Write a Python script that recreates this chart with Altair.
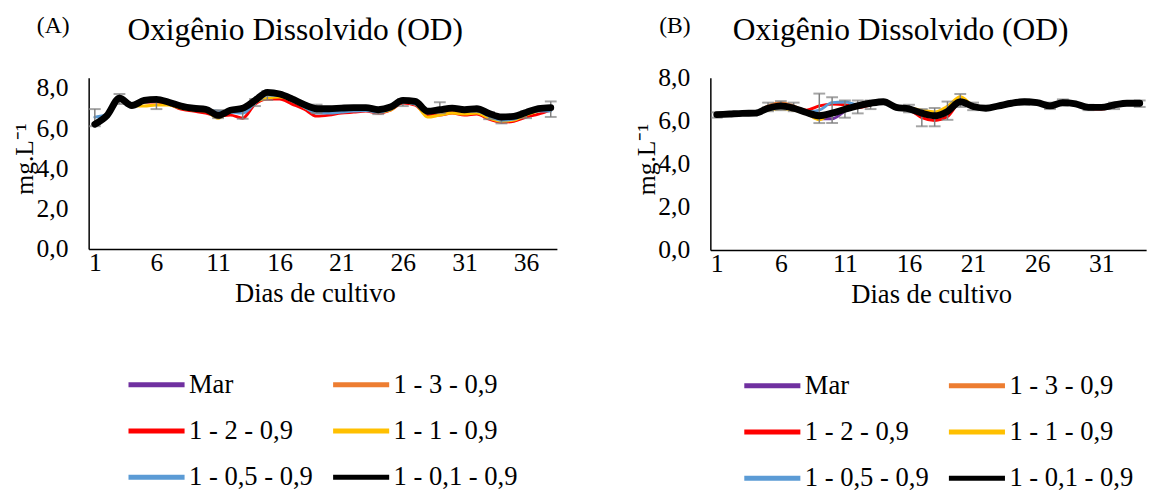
import altair as alt
import pandas as pd

SERIF = "Liberation Serif"

SERIES = ["Mar", "1 - 3 - 0,9", "1 - 2 - 0,9", "1 - 1 - 0,9", "1 - 0,5 - 0,9", "1 - 0,1 - 0,9"]
COLORS = ["#7030a0", "#ed7d31", "#ff0000", "#ffc000", "#5b9bd5", "#000000"]
WIDTHS = [3, 3, 3, 3, 3, 7]

# ---------------- Panel A (38 days) ----------------
A_mar = [6.20, 6.65, 7.45, 7.15, 7.35, 7.40, 7.30, 7.10, 7.00, 6.95, 6.65, 6.85, 6.95, 7.35, 7.75, 7.70, 7.45, 7.15, 7.00,
         6.95, 6.95, 7.00, 7.00, 6.90, 7.00, 7.35, 7.30, 6.80, 6.85, 6.90, 6.85, 6.90, 6.65, 6.50, 6.55, 6.75, 6.95, 7.05]
A_13 = [6.25, 6.70, 7.45, 7.15, 7.40, 7.45, 7.30, 7.05, 6.90, 6.85, 6.60, 6.85, 6.90, 7.35, 7.75, 7.75, 7.45, 7.10, 6.85,
        6.85, 6.90, 6.95, 6.95, 6.85, 6.95, 7.35, 7.25, 6.60, 6.70, 6.80, 6.75, 6.80, 6.55, 6.40, 6.45, 6.70, 6.90, 7.00]
A_12 = [6.25, 6.65, 7.40, 7.10, 7.30, 7.30, 7.20, 6.95, 6.85, 6.75, 6.60, 6.65, 6.50, 7.20, 7.45, 7.45, 7.20, 6.95, 6.60,
        6.65, 6.75, 6.80, 6.85, 6.75, 6.90, 7.25, 7.15, 6.65, 6.65, 6.75, 6.65, 6.70, 6.45, 6.30, 6.35, 6.55, 6.70, 6.90]
A_11 = [6.25, 6.70, 7.40, 7.10, 7.10, 7.15, 7.15, 7.00, 6.90, 6.85, 6.50, 6.85, 6.90, 7.30, 7.50, 7.55, 7.40, 7.05, 6.80,
        6.80, 6.85, 6.90, 6.90, 6.80, 6.90, 7.30, 7.20, 6.55, 6.65, 6.75, 6.70, 6.75, 6.50, 6.35, 6.40, 6.65, 6.85, 6.95]
A_105 = [6.55, 6.70, 7.55, 7.10, 7.30, 7.35, 7.25, 7.05, 6.95, 6.90, 6.85, 6.80, 6.75, 7.25, 7.65, 7.62, 7.40, 7.05, 6.75,
         6.75, 6.80, 6.85, 6.88, 6.80, 6.95, 7.30, 7.20, 6.75, 6.95, 6.95, 6.85, 6.85, 6.60, 6.40, 6.45, 6.75, 6.85, 6.85]
A_101 = [6.20, 6.64, 7.49, 7.13, 7.38, 7.43, 7.29, 7.10, 6.99, 6.94, 6.64, 6.89, 6.99, 7.38, 7.78, 7.70, 7.46, 7.17, 6.97,
         6.97, 7.00, 7.02, 7.02, 6.92, 7.05, 7.38, 7.33, 6.84, 6.92, 7.00, 6.92, 6.97, 6.73, 6.56, 6.59, 6.78, 6.97, 7.02]
A_err_day = [1, 3, 6, 11, 13, 14, 15, 19, 24, 26, 29, 33, 34, 36, 38]
A_err_lo = [6.10, 7.20, 6.95, 6.50, 6.47, 7.10, 7.40, 6.75, 6.70, 7.10, 6.75, 6.45, 6.24, 6.50, 6.56]
A_err_hi = [6.95, 7.70, 7.50, 6.90, 7.05, 7.45, 7.85, 7.17, 7.00, 7.45, 7.29, 6.80, 6.60, 6.85, 7.33]

# ---------------- Panel B (34 days) ----------------
B_mar = [6.25, 6.30, 6.33, 6.35, 6.60, 6.72, 6.58, 6.35, 6.10, 6.10, 6.45, 6.68, 6.80, 6.88, 6.62, 6.55, 6.35,
         6.20, 6.45, 6.90, 6.68, 6.60, 6.72, 6.85, 6.90, 6.85, 6.72, 6.88, 6.80, 6.62, 6.62, 6.75, 6.85, 6.85]
B_13 = [6.27, 6.30, 6.33, 6.38, 6.70, 6.85, 6.70, 6.42, 6.30, 6.40, 6.58, 6.72, 6.80, 6.88, 6.62, 6.55, 6.38,
        6.30, 6.50, 6.95, 6.70, 6.60, 6.72, 6.85, 6.92, 6.88, 6.72, 6.85, 6.80, 6.62, 6.60, 6.74, 6.85, 6.85]
B_12 = [6.25, 6.28, 6.33, 6.35, 6.62, 6.72, 6.62, 6.50, 6.70, 6.78, 6.75, 6.62, 6.75, 6.85, 6.60, 6.52, 6.15,
        6.02, 6.20, 6.85, 6.65, 6.58, 6.70, 6.80, 6.88, 6.85, 6.70, 6.85, 6.78, 6.58, 6.55, 6.70, 6.82, 6.82]
B_11 = [6.25, 6.30, 6.33, 6.35, 6.50, 6.58, 6.50, 6.35, 6.05, 6.40, 6.50, 6.72, 6.82, 6.88, 6.65, 6.60, 6.50,
        6.42, 6.68, 7.12, 6.72, 6.62, 6.75, 6.88, 6.95, 6.88, 6.75, 6.88, 6.82, 6.65, 6.65, 6.75, 6.85, 6.85]
B_105 = [6.22, 6.27, 6.30, 6.32, 6.52, 6.60, 6.55, 6.40, 6.50, 6.85, 6.88, 6.75, 6.80, 6.85, 6.62, 6.55, 6.38,
         6.28, 6.48, 6.92, 6.68, 6.60, 6.70, 6.82, 6.88, 6.82, 6.68, 6.82, 6.75, 6.60, 6.62, 6.70, 6.78, 6.75]
B_101 = [6.29, 6.32, 6.35, 6.36, 6.59, 6.70, 6.59, 6.39, 6.24, 6.36, 6.54, 6.70, 6.82, 6.89, 6.63, 6.56, 6.36,
         6.24, 6.44, 6.89, 6.67, 6.59, 6.70, 6.82, 6.89, 6.85, 6.70, 6.85, 6.79, 6.63, 6.63, 6.74, 6.82, 6.82]
B_err_day = [1, 5, 6, 7, 9, 10, 11, 12, 13, 16, 17, 18, 19, 20, 21, 25, 27, 28, 30, 32, 34]
B_err_lo = [6.15, 6.45, 6.50, 6.45, 5.90, 5.90, 6.15, 6.35, 6.55, 6.40, 5.75, 5.75, 6.05, 6.65, 6.50, 6.75, 6.55,
            6.70, 6.50, 6.55, 6.65]
B_err_hi = [6.40, 6.85, 6.92, 6.85, 7.27, 7.10, 6.95, 6.95, 6.95, 6.75, 6.55, 6.60, 6.90, 7.25, 6.85, 7.00, 6.85,
            7.00, 6.75, 6.85, 6.95]

Y_TICKS = [0, 2, 4, 6, 8]
TITLE = "Oxigênio Dissolvido (OD)"


def long_df(values_list):
    rows = []
    for name, vals in zip(SERIES, values_list):
        for i, v in enumerate(vals):
            rows.append({"dia": i + 1, "valor": v, "serie": name})
    return pd.DataFrame(rows)


def panel(values_list, err_day, err_lo, err_hi, ndays, width, height, ymax, letter,
          legend_x, legend_y, xtitle_dx):
    df = long_df(values_list)
    err = pd.DataFrame({"dia": err_day, "lo": err_lo, "hi": err_hi})
    x_ticks = list(range(1, ndays + 1, 5))

    x_enc = alt.X(
        "dia:Q",
        scale=alt.Scale(domain=[0.5, ndays + 0.5], nice=False, zero=False),
        axis=alt.Axis(
            values=x_ticks, title="Dias de cultivo", grid=False, ticks=False,
            domainColor="black", domainWidth=1.5, labelFont=SERIF, labelFontSize=26,
            labelColor="black", labelPadding=1, labelFlush=False, labelOverlap=False,
            titleFont=SERIF, titleFontSize=27, titleFontWeight="normal", titleColor="black",
            titlePadding=5, titleX=width / 2 + xtitle_dx,
        ),
    )
    y_axis = alt.Axis(
        values=Y_TICKS, title="mg.L⁻¹", grid=False, ticks=False, domainColor="black", domainWidth=1.5,
        labelFont=SERIF, labelFontSize=26, labelColor="black", labelPadding=21,
        labelExpr="replace(format(datum.value, '.1f'), '.', ',')",
        titleFont=SERIF, titleFontSize=26, titleFontWeight="normal", titleColor="black",
        titleX=-52, titleY=height / 2 - 5,
    )
    y_scale = alt.Scale(domain=[0, ymax], nice=False)
    color_enc = alt.Color(
        "serie:N",
        scale=alt.Scale(domain=SERIES, range=COLORS),
        legend=alt.Legend(
            title=None, orient="none", legendX=legend_x, legendY=legend_y, columns=2,
            direction="horizontal",
            symbolType="stroke", symbolSize=3249, symbolStrokeWidth=5, clipHeight=26,
            rowPadding=20, columnPadding=18, labelOffset=2, labelFont=SERIF, labelFontSize=27,
            labelColor="black", labelLimit=300,
        ),
    )

    layers = []
    for name, w in zip(SERIES[:-1], WIDTHS[:-1]):
        layers.append(
            alt.Chart(df).transform_filter(alt.datum.serie == name)
            .mark_line(interpolate="monotone", strokeWidth=w, strokeCap="round")
            .encode(x=x_enc, y=alt.Y("valor:Q", scale=y_scale, axis=y_axis), color=color_enc)
        )
    layers.append(
        alt.Chart(err).mark_errorbar(ticks={"size": 12, "thickness": 2}, rule={"strokeWidth": 1.5}, color="#7f7f7f")
        .encode(x=x_enc, y=alt.Y("lo:Q", scale=y_scale, axis=y_axis), y2="hi:Q")
    )
    layers.append(
        alt.Chart(df).transform_filter(alt.datum.serie == SERIES[-1])
        .mark_line(interpolate="monotone", strokeWidth=WIDTHS[-1], strokeCap="round")
        .encode(x=x_enc, y=alt.Y("valor:Q", scale=y_scale, axis=y_axis), color=color_enc)
    )
    # panel letter and chart title, placed above the plot area
    layers.append(
        alt.Chart(pd.DataFrame({"t": [letter]})).mark_text(
            font=SERIF, fontSize=24, color="black", align="center", baseline="middle"
        ).encode(text="t:N", x=alt.value(-36), y=alt.value(-53))
    )
    layers.append(
        alt.Chart(pd.DataFrame({"t": [TITLE]})).mark_text(
            font=SERIF, fontSize=32, color="black", align="center", baseline="middle"
        ).encode(text="t:N", x=alt.value(width / 2 - 28), y=alt.value(-48))
    )
    return alt.layer(*layers).properties(width=width, height=height)


pA = panel([A_mar, A_13, A_12, A_11, A_105, A_101], A_err_day, A_err_lo, A_err_hi,
           38, 476, 174, 8.5, "(A)", 38, 299, -8)
pB = panel([B_mar, B_13, B_12, B_11, B_105, B_101], B_err_day, B_err_lo, B_err_hi,
           34, 443, 175, 8.0, "(B)", 32, 300, 3)

chart = (
    alt.hconcat(pA, pB, spacing=70)
    .resolve_scale(color="independent", x="independent", y="independent")
    .resolve_legend(color="independent")
    .properties(padding={"left": 4, "top": 2, "right": 0, "bottom": 0}, background="white")
    .configure_view(stroke=None)
)

chart.save("out.html", embed_options={"renderer": "svg", "actions": False})
